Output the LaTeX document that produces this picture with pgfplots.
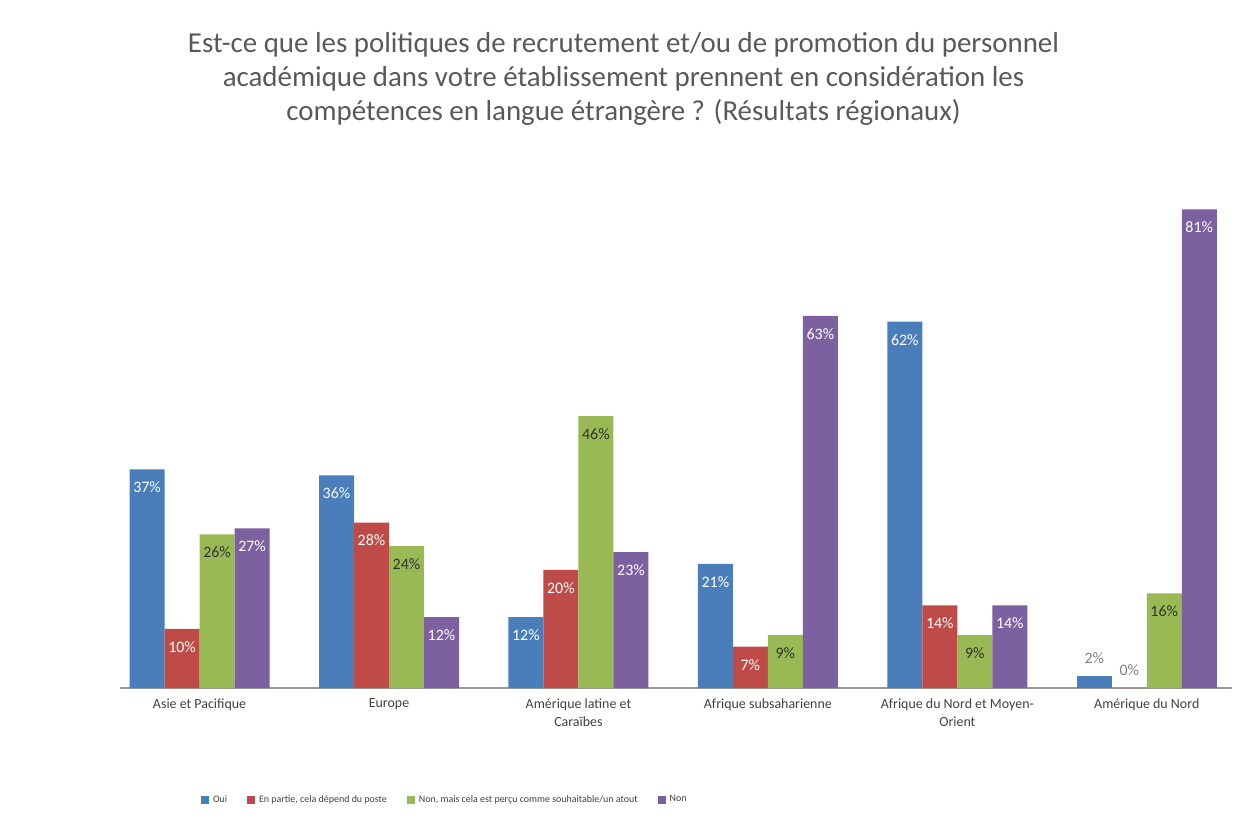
\documentclass[border=0pt]{standalone}
\usepackage{pgfplots}
\pgfplotsset{compat=1.18}
\usepackage{fontspec}
\setmainfont{Carlito}

\definecolor{cblue}{HTML}{4A7EBB}
\definecolor{cred}{HTML}{BE4B48}
\definecolor{cgreen}{HTML}{98B954}
\definecolor{cpurple}{HTML}{7D60A0}
\definecolor{ctext}{HTML}{404040}
\definecolor{ctitle}{HTML}{595959}

\newcommand\lblfont{\fontsize{8}{8}\selectfont}

\pgfplotsset{
  inlbl/.style={nodes near coords={\pgfmathprintnumber{\pgfplotspointmeta}\%},
    every node near coord/.append style={font=\lblfont, text=#1, anchor=center, yshift=-9bp}},
  outlbl/.style={nodes near coords={\pgfmathprintnumber{\pgfplotspointmeta}\%},
    every node near coord/.append style={font=\lblfont, text=gray, anchor=center, yshift=9bp}},
}

\begin{document}
\begin{tikzpicture}
\path (-60bp,-65.5bp) rectangle (563.5bp,344bp);

\begin{axis}[
  at={(0,0)}, anchor=south west,
  width=556bp, height=244bp, scale only axis,
  ybar, bar width=17.5bp,
  ymin=0, ymax=82.6,
  xmin=-0.42, xmax=5.45,
  separate axis lines,
  axis y line=none,
  axis x line*=bottom,
  x axis line style={-, draw=gray!80, line width=0.8pt},
  ytick=\empty,
  xtick={0,1,2,3,4,5},
  major tick length=0pt,
  xticklabels={Asie et Pacifique, Europe, {Amérique latine et\\Caraïbes}, Afrique subsaharienne, {Afrique du Nord et Moyen-\\Orient}, Amérique du Nord},
  xticklabel style={align=center, font=\fontsize{7}{9}\selectfont, text=ctext, yshift=-2bp},
  /pgf/number format/assume math mode=true,
  legend style={at={(0.293,-0.23)}, anchor=center, legend columns=4, draw=none, fill=none,
    font=\fontsize{5}{6}\selectfont, text=ctext,
    /tikz/every even column/.append style={column sep=8bp}},
  legend image code/.code={\fill[#1] (0bp,-2bp) rectangle (4bp,2bp);},
  clip=false,
]
% Oui
\addplot[fill=cblue, draw=none, bar shift=-26.25bp, inlbl=white] coordinates {(0,37) (1,36) (2,12) (3,21) (4,62)};
\addplot[fill=cblue, draw=none, bar shift=-26.25bp, outlbl, forget plot] coordinates {(5,2)};
% En partie
\addplot[fill=cred, draw=none, bar shift=-8.75bp, inlbl=white] coordinates {(0,10) (1,28) (2,20) (3,7) (4,14)};
\addplot[fill=cred, draw=none, bar shift=-8.75bp, outlbl, forget plot] coordinates {(5,0)};
% Non, mais souhaitable
\addplot[fill=cgreen, draw=none, bar shift=8.75bp, inlbl={black!80}] coordinates {(0,26) (1,24) (2,46) (3,9) (4,9) (5,16)};
% Non
\addplot[fill=cpurple, draw=none, bar shift=26.25bp, inlbl=white] coordinates {(0,27) (1,12) (2,23) (3,63) (4,14) (5,81)};
\legend{Oui, {En partie, cela dépend du poste}, {Non, mais cela est perçu comme souhaitable/un atout}, Non}
\end{axis}

\node[align=center, font=\fontsize{14.5}{17}\selectfont, text=ctitle] at (251.75bp,304.5bp)
  {Est-ce que les politiques de recrutement et/ou de promotion du personnel\\
   académique dans votre établissement prennent en considération les\\
   compétences en langue étrangère ? (Résultats régionaux)};
\end{tikzpicture}
\end{document}
